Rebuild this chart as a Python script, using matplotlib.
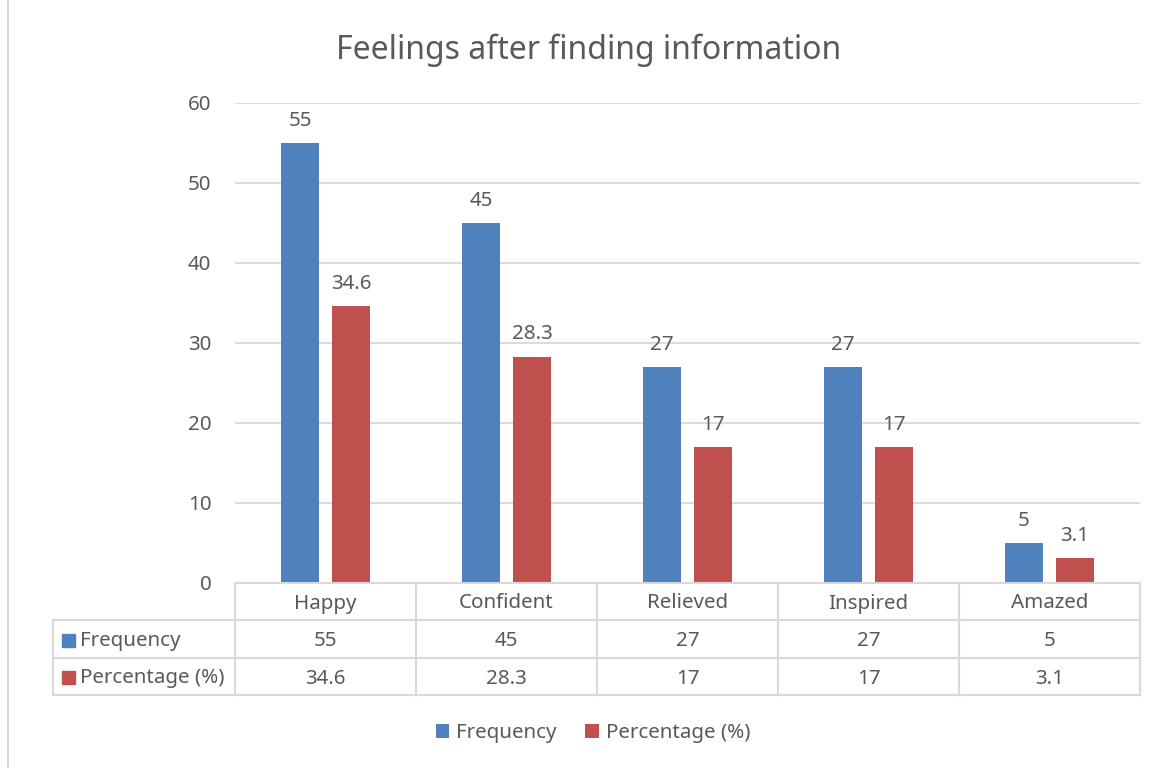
import matplotlib
matplotlib.use("Agg")
import matplotlib.pyplot as plt
from matplotlib.patches import Patch, Rectangle
from matplotlib.lines import Line2D

categories = ["Happy", "Confident", "Relieved", "Inspired", "Amazed"]
frequency = [55, 45, 27, 27, 5]
percentage = [34.6, 28.3, 17, 17, 3.1]
freq_labels = ["55", "45", "27", "27", "5"]
pct_labels = ["34.6", "28.3", "17", "17", "3.1"]
series_names = ["Frequency", "Percentage (%)"]
yticks = [0, 10, 20, 30, 40, 50, 60]

BLUE = "#4F81BD"
RED = "#C0504D"
TXT = "#595959"
GRID = "#D9D9D9"
FONT = "Noto Sans"
FS = 14.8

plt.rcParams["font.family"] = [FONT, "DejaVu Sans"]

W, H = 1160, 768
fig = plt.figure(figsize=(W / 100, H / 100), dpi=100)

def fx(px):
    return px / W

def fy(py):
    return 1 - py / H

x0, x1, ytop, ybot = 235, 1140, 103, 583
ax = fig.add_axes([fx(x0), fy(ybot), fx(x1) - fx(x0), fy(ytop) - fy(ybot)])
n = len(categories)
ax.set_xlim(-0.5, n - 0.5)
ax.set_ylim(0, 60)

bw = 0.215
off = 0.141
xs = list(range(n))
bars1 = ax.bar([x - off for x in xs], frequency, width=bw, color=BLUE, zorder=3)
bars2 = ax.bar([x + off for x in xs], percentage, width=bw, color=RED, zorder=3)

for b, lab in zip(bars1, freq_labels):
    ax.annotate(lab, (b.get_x() + b.get_width() / 2, b.get_height()), xytext=(0, 9),
                textcoords="offset points", ha="center", va="bottom", color=TXT, fontsize=FS)
for b, lab in zip(bars2, pct_labels):
    ax.annotate(lab, (b.get_x() + b.get_width() / 2, b.get_height()), xytext=(0, 9),
                textcoords="offset points", ha="center", va="bottom", color=TXT, fontsize=FS)

ax.set_yticks(yticks)
ax.set_yticklabels([str(t) for t in yticks])
ax.tick_params(axis="y", length=0, pad=17, labelcolor=TXT, labelsize=FS)
ax.set_xticks([])
ax.yaxis.grid(True, color=GRID, linewidth=1.3, zorder=0)
for s in ax.spines.values():
    s.set_visible(False)

# data table
col_w = (x1 - x0) / n
row_y = [583, 620, 658, 695]
tl = 53
lw = 1.5
dy = 2

def hline(xa, xb, y):
    fig.add_artist(Line2D([fx(xa), fx(xb)], [fy(y), fy(y)], color=GRID, linewidth=lw))

def vline(x, ya, yb):
    fig.add_artist(Line2D([fx(x), fx(x)], [fy(ya), fy(yb)], color=GRID, linewidth=lw))

hline(x0, x1, row_y[0])
for y in row_y[1:]:
    hline(tl, x1, y)
for i in range(n + 1):
    vline(x0 + i * col_w, row_y[0], row_y[3])
vline(tl, row_y[1], row_y[3])

for i, c in enumerate(categories):
    cx = x0 + (i + 0.5) * col_w
    fig.text(fx(cx), fy((row_y[0] + row_y[1]) / 2 + dy), c, ha="center", va="center", color=TXT, fontsize=FS)
    fig.text(fx(cx), fy((row_y[1] + row_y[2]) / 2 + dy), freq_labels[i], ha="center", va="center", color=TXT, fontsize=FS)
    fig.text(fx(cx), fy((row_y[2] + row_y[3]) / 2 + dy), pct_labels[i], ha="center", va="center", color=TXT, fontsize=FS)

for r, (name, col) in enumerate(zip(series_names, [BLUE, RED])):
    yc = (row_y[r + 1] + row_y[r + 2]) / 2
    sq = 13
    fig.add_artist(Rectangle((fx(62), fy(yc + 1 + sq / 2)), fx(sq), sq / H, color=col))
    fig.text(fx(80), fy(yc + dy), name, ha="left", va="center", color=TXT, fontsize=FS)

# chart border (left edge)
vline(8, 0, 768)

# title
fig.text(fx(589), fy(50), "Feelings after finding information", ha="center", va="center",
         color=TXT, fontsize=23)

# legend
handles = [Patch(facecolor=BLUE), Patch(facecolor=RED)]
fig.legend(handles, series_names, loc="center", bbox_to_anchor=(fx(593), fy(733)), ncol=2,
           frameon=False, handlelength=0.65, handleheight=0.65, handletextpad=0.35,
           columnspacing=1.4, fontsize=FS, labelcolor=TXT)

fig.savefig("out.png", dpi=100)
